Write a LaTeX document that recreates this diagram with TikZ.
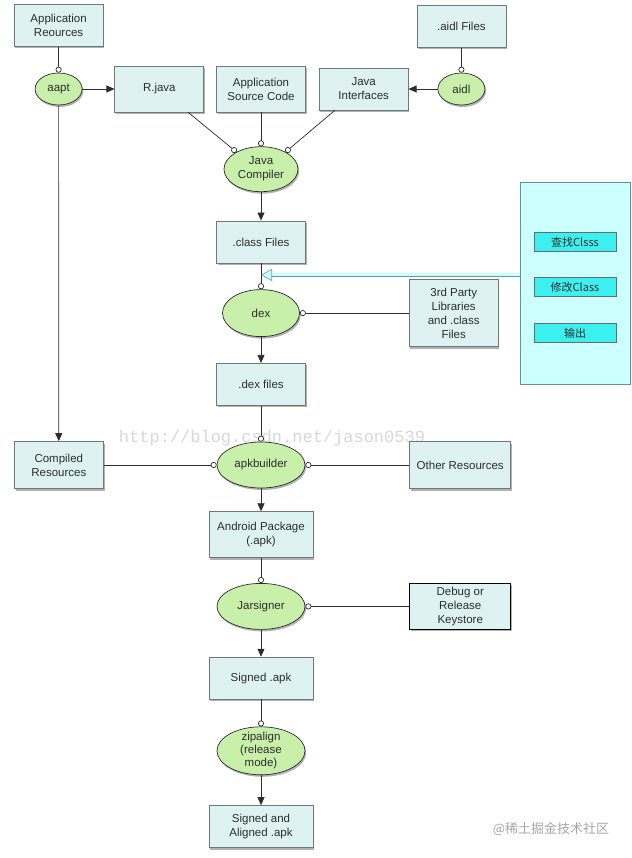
\documentclass[tikz,border=0pt]{standalone}
\usepackage{fontspec}
\setmainfont{Liberation Sans}
\setmonofont{Liberation Mono}
\newfontfamily\cjk{Noto Sans CJK SC}
\usetikzlibrary{arrows.meta,positioning,calc,shapes.geometric,shadows}
\definecolor{ink}{RGB}{45,45,45}
\definecolor{edge}{RGB}{110,120,120}
\definecolor{boxfill}{RGB}{222,242,242}
\definecolor{procfill}{RGB}{200,240,170}
\definecolor{panelfill}{RGB}{204,255,255}
\definecolor{paneledge}{RGB}{100,145,145}
\definecolor{btnfill}{RGB}{60,240,240}
\definecolor{hollowedge}{RGB}{90,160,170}
\definecolor{mark}{RGB}{215,215,215}
\tikzset{
  every picture/.style={color=ink, line width=0.7pt, font=\fontsize{11.5}{14}\selectfont},
  shade/.style={drop shadow={shadow xshift=1.2pt, shadow yshift=-2pt, opacity=0.3, fill=black}},
  box/.style={draw=edge, fill=boxfill, shade, minimum width=89pt, minimum height=42pt, inner sep=3pt, align=center},
  wide/.style={box, minimum width=104pt},
  proc/.style={ellipse, draw=ink, fill=procfill, shade, minimum width=88pt, minimum height=46pt, inner sep=0pt, align=center},
  tool/.style={proc, minimum width=47pt, minimum height=32pt},
  panel/.style={draw=paneledge, fill=panelfill, minimum width=110pt, minimum height=202pt},
  btn/.style={draw=ink!70, fill=btnfill, minimum width=82pt, minimum height=19pt, inner sep=0pt, font=\cjk\fontsize{11}{13}\selectfont},
  flow/.style={-{Triangle[length=8pt,width=7pt]}},
  feed/.style={-{Circle[open,length=6pt,fill=white]}},
  hollow/.style={draw=hollowedge, double=panelfill, double distance=3pt, line width=0.6pt, -{Triangle[open,length=11pt,width=12pt,fill=panelfill]}},
  stamp/.style={text=mark, inner sep=0pt},
}

\begin{document}
\begin{tikzpicture}[x=1pt, y=-1pt]
  \useasboundingbox (0,0) rectangle (631,858);
  \node[stamp, font=\ttfamily\fontsize{17}{17}\selectfont] (csdn) at (272,438) {http://blog.csdn.net/jason0539};
  \node[stamp, text=black!35, font=\cjk\fontsize{13}{15}\selectfont] (juejin) at (551,829) {@稀土掘金技术社区};

  % sources and the compiler
  \node[box, minimum height=46pt] (src) at (261,89) {Application\\Source Code};
  \node[box, minimum height=46pt, left=12pt of src] (rjava) {R.java};
  \node[box, right=13pt of src] (iface) {Java\\Interfaces};
  \node[tool, left=32pt of rjava] (aapt) {aapt};
  \node[box, above=26pt of aapt] (appres) {Application\\Reources};
  \node[tool, right=29pt of iface] (aidl) {aidl};
  \node[box, above=25pt of aidl] (aidlf) {.aidl Files};
  \node[proc, minimum width=74pt, minimum height=45pt, below=34pt of src] (javac) {Java\\Compiler};
  \node[box, below=28.5pt of javac] (cls) {.class Files};
  \node[proc, minimum width=77pt, minimum height=47pt, below=26pt of cls] (dex) {dex};
  \node[box, minimum height=67pt, right=109pt of dex] (party) {3rd Party\\Libraries\\and .class\\Files};
  \node[box, below=26pt of dex] (dexf) {.dex files};

  % packaging
  \node[proc, below=36pt of dexf] (apkb) {apkbuilder};
  \node[box, minimum height=47pt, left=113pt of apkb] (comp) {Compiled\\Resources};
  \node[box, minimum width=101pt, minimum height=47pt, right=104pt of apkb] (other) {Other Resources};
  \node[wide, minimum height=46pt, below=23pt of apkb] (apk) {Android Package\\(.apk)};
  \node[proc, below=25pt of apk] (jar) {Jarsigner};
  \node[box, draw=black, minimum width=101pt, minimum height=46pt, right=104pt of jar] (keys) {Debug or\\Release\\Keystore};
  \node[wide, below=27pt of jar] (sapk) {Signed .apk};
  \node[proc, minimum height=48pt, inner ysep=-2pt, font=\fontsize{11.5}{13}\selectfont, below=27pt of sapk] (zip) {zipalign\\(release\\mode)};
  \node[wide, below=30pt of zip] (sa) {Signed and\\Aligned .apk};

  % side panel
  \node[panel] (panel) at (575.5,283.5) {};
  \node[btn] (find) at (575,242) {查找Clsss};
  \node[btn] (edit) at (575,287) {修改Class};
  \node[btn] (emit) at (575,333) {输出};

  \draw[feed] (appres) -- (aapt);
  \draw[flow] (aapt) -- (rjava);
  \draw[flow] (aapt) -- (comp);
  \draw[feed] ([xshift=-16pt]rjava.south east) -- (javac.145);
  \draw[feed] (src) -- (javac);
  \draw[feed] ([xshift=16pt]iface.south west) -- (javac.35);
  \draw[feed] (aidlf) -- (aidl);
  \draw[flow] (aidl) -- (iface);
  \draw[flow] (javac) -- (cls);
  \draw[feed] (cls) -- (dex);
  \draw[feed] (party) -- (dex);
  \draw[flow] (dex) -- (dexf);
  \draw[feed] (dexf) -- (apkb);
  \draw[feed] (comp) -- (apkb);
  \draw[feed] (other) -- (apkb);
  \draw[flow] (apkb) -- (apk);
  \draw[feed] (apk) -- (jar);
  \draw[feed] (keys) -- (jar);
  \draw[flow] (jar) -- (sapk);
  \draw[feed] (sapk) -- (zip);
  \draw[flow] (zip) -- (sa);
  \coordinate (tap) at ($(cls.south)!0.45!(dex.north)$);
  \draw[hollow] (panel.west |- tap) -- (tap);
\end{tikzpicture}
\end{document}
